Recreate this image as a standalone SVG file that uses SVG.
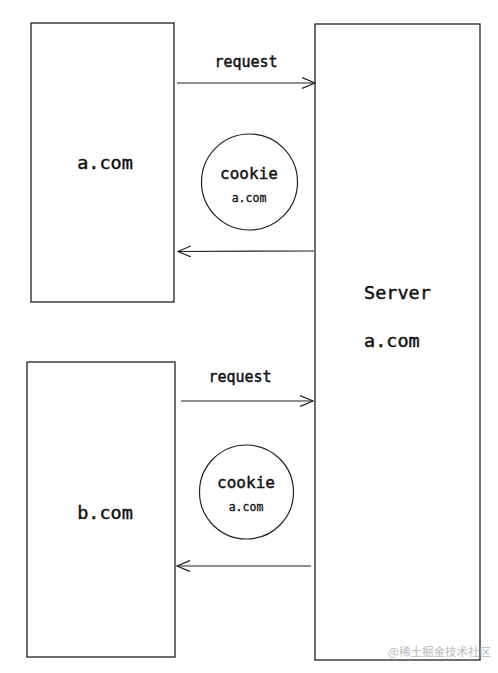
<svg xmlns="http://www.w3.org/2000/svg" width="498" height="673" viewBox="0 0 498 673">
<style>
.box{fill:#fff;stroke:#222;stroke-width:1.3}
.circ{fill:#fff;stroke:#222;stroke-width:1.2}
.edge{stroke:#222;stroke-width:1.2;fill:none}
.t{font-family:"DejaVu Sans Mono","Liberation Mono",monospace;fill:#111;stroke:#111;stroke-width:0.45}
.big{font-size:18.5px}
.lbl{font-size:15px}
.ck{font-size:16px}
.sm{font-size:11.5px;stroke-width:0.3}
.wm{font-family:"Noto Sans CJK SC",sans-serif;font-size:11.5px;fill:#bbb}
</style>
<defs>
<marker id="ah" viewBox="0 0 14 12" refX="13" refY="6" markerWidth="14" markerHeight="12" markerUnits="userSpaceOnUse" orient="auto">
<path d="M0,0.5 L13,6 L0,11.5" fill="none" stroke="#222" stroke-width="1.2"/>
</marker>
</defs>
<rect width="498" height="673" fill="#fff"/>
<g id="client-a">
<rect class="box" x="31" y="23" width="143" height="279"/>
<text class="t big" x="105" y="169" text-anchor="middle">a.com</text>
</g>
<g id="client-b">
<rect class="box" x="27" y="362" width="148" height="295"/>
<text class="t big" x="105" y="519" text-anchor="middle">b.com</text>
</g>
<g id="server">
<rect class="box" x="315" y="24" width="165" height="636"/>
<text class="t big" x="364" y="299">Server</text>
<text class="t big" x="364" y="347">a.com</text>
</g>
<g id="cookie-1">
<circle class="circ" cx="249.5" cy="182" r="48"/>
<text class="t ck" x="249" y="179" text-anchor="middle">cookie</text>
<text class="t sm" x="249" y="202" text-anchor="middle">a.com</text>
</g>
<g id="cookie-2">
<circle class="circ" cx="246.5" cy="492" r="47"/>
<text class="t ck" x="246" y="488" text-anchor="middle">cookie</text>
<text class="t sm" x="246" y="511" text-anchor="middle">a.com</text>
</g>
<g id="connectors">
<line class="edge" x1="177" y1="83" x2="315" y2="83" marker-end="url(#ah)"/>
<text class="t lbl" x="246" y="67" text-anchor="middle">request</text>
<line class="edge" x1="314" y1="251" x2="178" y2="251.5" marker-end="url(#ah)"/>
<line class="edge" x1="181" y1="401" x2="313" y2="401" marker-end="url(#ah)"/>
<text class="t lbl" x="240" y="382" text-anchor="middle">request</text>
<line class="edge" x1="311" y1="566" x2="177" y2="566" marker-end="url(#ah)"/>
</g>
<text class="wm" x="388" y="656">@稀土掘金技术社区</text>
</svg>
